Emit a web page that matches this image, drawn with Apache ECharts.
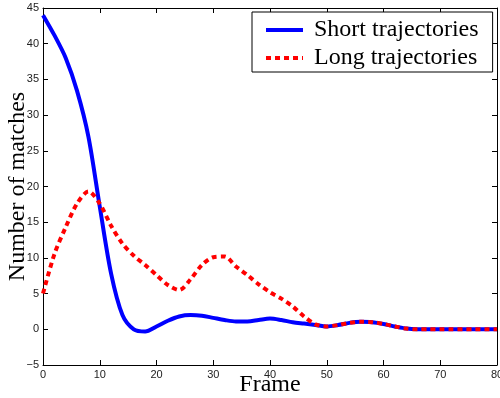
<!DOCTYPE html>
<html>
<head>
<meta charset="utf-8">
<script src="https://cdn.jsdelivr.net/npm/echarts@6/dist/echarts.min.js"></script>
<style>
html, body { margin: 0; padding: 0; background: #fff; }
#chart { width: 500px; height: 398px; }
</style>
</head>
<body>
<div id="chart"></div>
<script>
// frame numbers (x) and the two curves
var frames = [0, 2, 4, 6, 8, 10, 12, 14, 16, 18, 20, 22, 24, 26, 28, 30, 32, 34, 36, 38, 40,
  42, 44, 46, 48, 50, 52, 54, 56, 58, 60, 62, 64, 66, 68, 70, 72, 74, 76, 78, 80];
var shortTraj = [44, 41.2, 38, 33.4, 27, 17.2, 7.8, 2.0, 0.0, -0.3, 0.4, 1.2, 1.8, 2.0, 1.9, 1.6,
  1.3, 1.1, 1.1, 1.3, 1.5, 1.3, 1.0, 0.8, 0.6, 0.4, 0.6, 0.9, 1.05, 1.0, 0.75, 0.4, 0.1, 0,
  0, 0, 0, 0, 0, 0, 0];
var longTraj = [5, 10.5, 14.3, 17.6, 19.3, 17.6, 14.5, 12, 10.3, 9.0, 7.6, 6.2, 5.5, 7.0, 9.0,
  10.1, 10.2, 8.8, 7.6, 6.3, 5.2, 4.3, 3.2, 1.8, 0.7, 0.4, 0.6, 0.9, 1.05, 1.0, 0.75, 0.4, 0.1,
  0, 0, 0, 0, 0, 0, 0, 0];
var seriesNames = ["Short trajectories", "Long trajectories"];

function pairs(ys) {
  return frames.map(function (x, i) { return [x, ys[i]]; });
}
function minus(v) { return String(v).replace("-", "\u2212"); }

var chart = echarts.init(document.getElementById("chart"));
var tickFont = { fontFamily: "Liberation Sans", fontSize: 11, color: "#222" };
var frameAxis = {
  min: 0, max: 80, interval: 10,
  axisLine: { show: true, onZero: false, lineStyle: { color: "#000", width: 1 } },
  axisTick: { show: true, inside: true, length: 5, lineStyle: { color: "#000" } },
  splitLine: { show: false }
};
var countAxis = {
  min: -5, max: 45, interval: 5,
  axisLine: { show: true, onZero: false, lineStyle: { color: "#000", width: 1 } },
  axisTick: { show: true, inside: true, length: 5, lineStyle: { color: "#000" } },
  splitLine: { show: false }
};

chart.setOption({
  animation: false,
  grid: { left: 43, right: 3, top: 8, bottom: 33, containLabel: false, outerBoundsMode: "none" },
  legend: {
    data: seriesNames,
    orient: "vertical",
    left: 252, top: 12,
    padding: [6, 14, 2, 12],
    itemWidth: 37, itemHeight: 14, itemGap: 4,
    itemStyle: { opacity: 0 },
    lineStyle: { width: 4 },
    borderColor: "#000", borderWidth: 1,
    backgroundColor: "#fff",
    textStyle: { fontFamily: "Liberation Serif", fontSize: 24, color: "#000",
      lineHeight: 24, padding: [0, 0, 0, 6] }
  },
  xAxis: [
    Object.assign({ type: "value", position: "bottom", name: "Frame",
      nameLocation: "middle", nameGap: 8, nameMoveOverlap: false,
      nameTextStyle: { fontFamily: "Liberation Serif", fontSize: 24, color: "#000" },
      axisLabel: Object.assign({ margin: 4 }, tickFont) }, frameAxis),
    Object.assign({ type: "value", position: "top", axisLabel: { show: false } }, frameAxis)
  ],
  yAxis: [
    Object.assign({ type: "value", position: "left", name: "Number of matches",
      nameLocation: "middle", nameGap: 13, nameMoveOverlap: false,
      nameTextStyle: { fontFamily: "Liberation Serif", fontSize: 24, color: "#000" },
      axisLabel: Object.assign({ margin: 4, formatter: minus }, tickFont) }, countAxis),
    Object.assign({ type: "value", position: "right", axisLabel: { show: false } }, countAxis)
  ],
  series: [
    {
      name: seriesNames[0], type: "line", smooth: 0.3, symbol: "none",
      color: "#0000ff",
      lineStyle: { color: "#0000ff", width: 4 },
      data: pairs(shortTraj)
    },
    {
      name: seriesNames[1], type: "line", smooth: 0.3, symbol: "none",
      color: "#ff0000",
      lineStyle: { color: "#ff0000", width: 4, type: [5, 4] },
      data: pairs(longTraj)
    }
  ]
});
</script>
</body>
</html>
